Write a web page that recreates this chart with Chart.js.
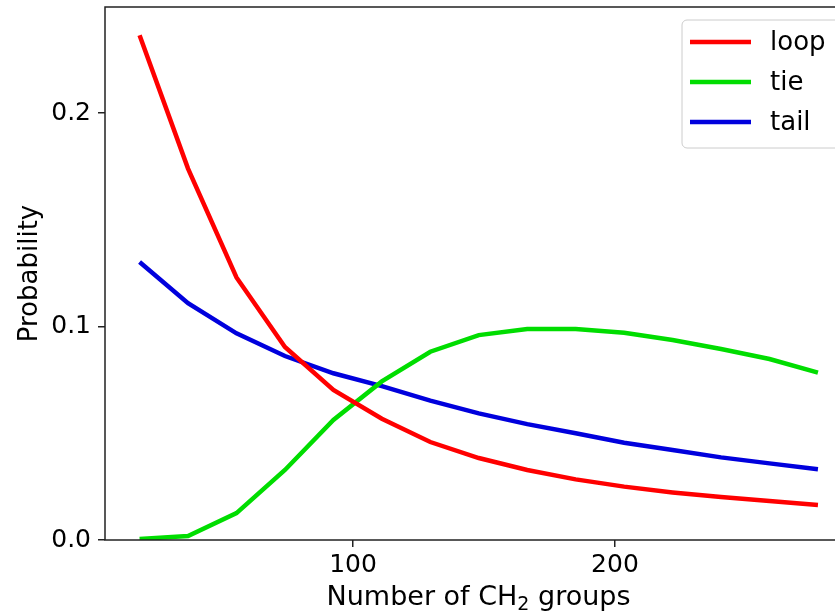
<!DOCTYPE html>
<html>
<head>
<meta charset="utf-8">
<script src="https://cdn.jsdelivr.net/npm/chart.js@4/dist/chart.umd.min.js"></script>
<style>
  html, body { margin: 0; padding: 0; background: #fff; overflow: hidden; }
  #wrap { width: 880px; height: 614px; }
</style>
</head>
<body>
<div id="wrap"><canvas id="chart" width="880" height="614"></canvas></div>
<script>
const groups = [18.5, 37, 55.5, 74, 92.5, 111, 129.5, 148, 166.5, 185, 203.5, 222, 240.5, 259, 277.5];
const loop = [0.2365, 0.174, 0.123, 0.0904, 0.0703, 0.0568, 0.0459, 0.0384, 0.0328, 0.0284, 0.0250, 0.0223, 0.0201, 0.0183, 0.0164];
const tie  = [0.0005, 0.0019, 0.0126, 0.0328, 0.0562, 0.0743, 0.0882, 0.0960, 0.0988, 0.0988, 0.0971, 0.0937, 0.0895, 0.0848, 0.0784];
const tail = [0.1302, 0.1109, 0.0968, 0.0862, 0.0781, 0.0721, 0.0653, 0.0593, 0.0543, 0.0500, 0.0456, 0.0422, 0.0387, 0.0359, 0.0331];
const xTicks = [100, 200];
const yTicks = [0.0, 0.1, 0.2];

const FONT = 'DejaVu Sans';
const pts = arr => arr.map((v, i) => ({ x: groups[i], y: v }));

const series = [
  { label: 'loop', data: loop, color: '#ff0000' },
  { label: 'tie', data: tie, color: '#00dd00' },
  { label: 'tail', data: tail, color: '#0000dd' }
];

// frame, axis titles and matplotlib-style legend
const decor = {
  id: 'decor',
  afterDraw(chart) {
    const { ctx, chartArea: a } = chart;
    ctx.save();
    ctx.strokeStyle = '#222';
    ctx.lineWidth = 1.5;
    ctx.strokeRect(a.left, a.top, a.right - a.left, a.bottom - a.top);

    ctx.fillStyle = '#000';
    // y title
    ctx.save();
    ctx.translate(37, (a.top + a.bottom) / 2);
    ctx.rotate(-Math.PI / 2);
    ctx.font = `26px "${FONT}"`;
    ctx.textAlign = 'center';
    ctx.textBaseline = 'alphabetic';
    ctx.fillText('Probability', 0, 0);
    ctx.restore();

    // x title with subscript
    const big = `27px "${FONT}"`, small = `19px "${FONT}"`;
    const p1 = 'Number of CH', p2 = '2', p3 = ' groups';
    ctx.font = big; const w1 = ctx.measureText(p1).width, w3 = ctx.measureText(p3).width;
    ctx.font = small; const w2 = ctx.measureText(p2).width;
    let x = (a.left + a.right) / 2 - (w1 + w2 + w3) / 2;
    const base = 605;
    ctx.textAlign = 'left';
    ctx.textBaseline = 'alphabetic';
    ctx.font = big; ctx.fillText(p1, x, base); x += w1;
    ctx.font = small; ctx.fillText(p2, x, base + 5); x += w2;
    ctx.font = big; ctx.fillText(p3, x, base);

    // legend
    const bx = 682, by = 20, bw = 166, bh = 128;
    ctx.beginPath();
    ctx.roundRect(bx, by, bw, bh, 5);
    ctx.fillStyle = 'rgba(255,255,255,0.8)';
    ctx.fill();
    ctx.strokeStyle = '#cccccc';
    ctx.lineWidth = 1;
    ctx.stroke();
    ctx.font = `26px "${FONT}"`;
    ctx.textBaseline = 'middle';
    series.forEach((s, i) => {
      const yy = 42 + i * 40;
      ctx.strokeStyle = s.color;
      ctx.lineWidth = 4.5;
      ctx.beginPath();
      ctx.moveTo(690, yy);
      ctx.lineTo(751, yy);
      ctx.stroke();
      ctx.fillStyle = '#000';
      ctx.fillText(s.label, 770, yy + 1);
    });
    ctx.restore();
  }
};

const noPad = s => { s.paddingTop = 0; s.paddingBottom = 0; s.paddingLeft = 0; s.paddingRight = 0; };

new Chart(document.getElementById('chart'), {
  type: 'line',
  data: {
    datasets: series.map(s => ({
      label: s.label,
      data: pts(s.data),
      borderColor: s.color,
      backgroundColor: s.color,
      borderWidth: 4.5,
      pointRadius: 0,
      tension: 0,
      fill: false
    }))
  },
  options: {
    responsive: false,
    animation: false,
    layout: { padding: { top: 7, right: 28, left: 0, bottom: 0 } },
    plugins: { legend: { display: false }, tooltip: { enabled: false } },
    scales: {
      x: {
        type: 'linear',
        min: 5.3,
        max: 290.5,
        afterBuildTicks: s => { s.ticks = xTicks.map(v => ({ value: v })); },
        afterFit: s => { s.height = 74; noPad(s); },
        border: { display: false },
        grid: { display: true, drawOnChartArea: false, drawTicks: true, tickLength: 7, color: '#222', lineWidth: 1.5 },
        ticks: { color: '#000', font: { family: FONT, size: 25 }, padding: 3, maxRotation: 0 }
      },
      y: {
        type: 'linear',
        min: 0,
        max: 0.2497,
        afterBuildTicks: s => { s.ticks = yTicks.map(v => ({ value: v })); },
        afterFit: s => { s.width = 105; noPad(s); },
        border: { display: false },
        grid: { display: true, drawOnChartArea: false, drawTicks: true, tickLength: 7, color: '#222', lineWidth: 1.5 },
        ticks: { color: '#000', font: { family: FONT, size: 25 }, padding: 7, callback: v => v.toFixed(1) }
      }
    }
  },
  plugins: [decor]
});
</script>
</body>
</html>
